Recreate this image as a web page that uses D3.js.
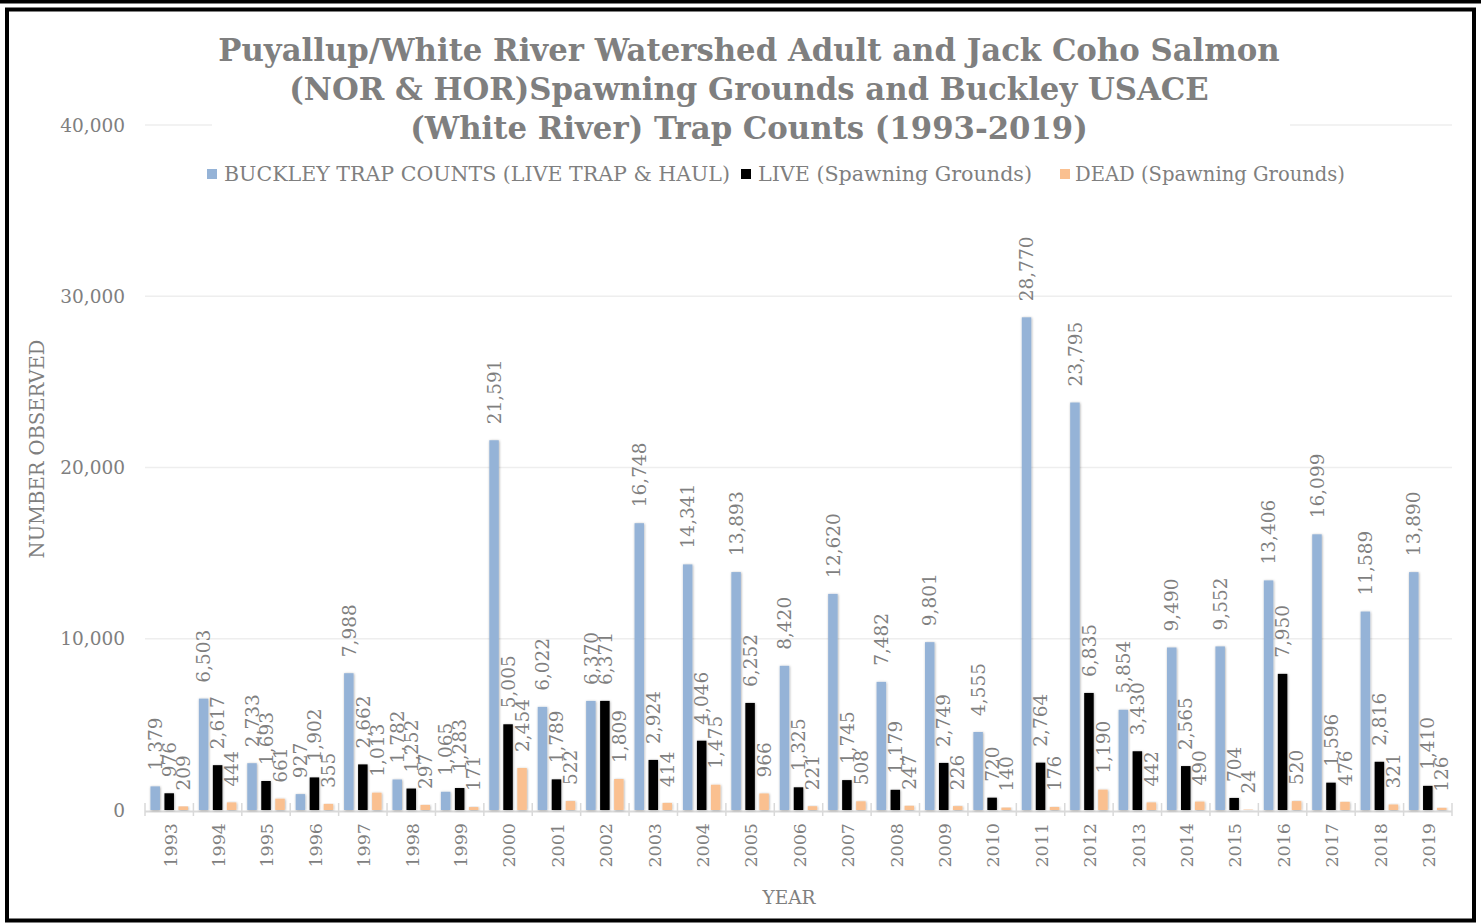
<!DOCTYPE html>
<html>
<head>
<meta charset="utf-8">
<script src="https://cdn.jsdelivr.net/npm/d3@7"></script>
<style>
  html, body { margin: 0; padding: 0; background: #fff; }
  svg { display: block; }
  text { font-family: "DejaVu Serif", "Liberation Serif", serif; fill: #7f7f7f; }
</style>
</head>
<body>
<svg id="chart" width="1481" height="923"></svg>
<script>
const years = ["1993","1994","1995","1996","1997","1998","1999","2000","2001","2002","2003","2004","2005","2006","2007","2008","2009","2010","2011","2012","2013","2014","2015","2016","2017","2018","2019"];
const buckley = [1379,6503,2733,927,7988,1782,1065,21591,6022,6370,16748,14341,13893,8420,12620,7482,9801,4555,28770,23795,5854,9490,9552,13406,16099,11589,13890];
const live = [976,2617,1693,1902,2662,1252,1283,5005,1789,6371,2924,4046,6252,1325,1745,1179,2749,720,2764,6835,3430,2565,704,7950,1596,2816,1410];
const dead = [209,444,661,355,1013,297,171,2454,522,1809,414,1475,966,221,508,247,226,140,176,1190,442,490,24,520,476,321,126];
const seriesNames = ["BUCKLEY TRAP COUNTS (LIVE TRAP & HAUL)", "LIVE (Spawning Grounds)", "DEAD (Spawning Grounds)"];
const seriesColors = ["#95b3d7", "#000000", "#fac090"];
const yTicks = [0, 10000, 20000, 30000, 40000];
const titleLines = ["Puyallup/White River Watershed Adult and Jack Coho Salmon", "(NOR & HOR)Spawning Grounds and Buckley USACE", "(White River) Trap Counts (1993-2019)"];

const svg = d3.select("#chart");
const W = 1481, H = 923;
const plot = {left: 145, right: 1452, top: 125, bottom: 810};

// frame
svg.append("rect").attr("x",0).attr("y",0).attr("width",W).attr("height",3.5).attr("fill","#000");
svg.append("rect").attr("x",7).attr("y",9.5).attr("width",1467).attr("height",911)
  .attr("fill","none").attr("stroke","#000").attr("stroke-width",4);

const defs = svg.append("defs");
const f = defs.append("filter").attr("id","sh").attr("x","-50%").attr("y","-10%").attr("width","200%").attr("height","120%");
f.append("feDropShadow").attr("dx",0.5).attr("dy",0.5).attr("stdDeviation",1.2).attr("flood-color","#000").attr("flood-opacity",0.35);

const x = d3.scaleBand().domain(years).range([plot.left, plot.right]).paddingInner(0).paddingOuter(0);
const y = d3.scaleLinear().domain([0, 40000]).range([plot.bottom, plot.top]);

// gridlines
svg.append("g").selectAll("line").data(yTicks.filter(d => d > 0)).join("line")
  .attr("x1", plot.left).attr("x2", plot.right)
  .attr("y1", d => y(d)).attr("y2", d => y(d))
  .attr("stroke", "#eeeeee").attr("stroke-width", 1.6);

// y tick labels
svg.append("g").selectAll("text").data(yTicks).join("text")
  .attr("x", 125).attr("y", d => y(d)).attr("dy", "0.36em")
  .attr("text-anchor", "end").style("font-size", "18.5px")
  .text(d => d3.format(",")(d));

// x axis line and ticks
svg.append("line").attr("x1", plot.left).attr("x2", plot.right)
  .attr("y1", plot.bottom + 1.5).attr("y2", plot.bottom + 1.5)
  .attr("stroke", "#d9d9d9").attr("stroke-width", 2);
const bounds = years.map(d => x(d)).concat([x(years[years.length-1]) + x.bandwidth()]);
svg.append("g").selectAll("line").data(bounds).join("line")
  .attr("x1", d => d).attr("x2", d => d)
  .attr("y1", plot.bottom - 7).attr("y2", plot.bottom + 6)
  .attr("stroke", "#d9d9d9").attr("stroke-width", 1.5);

// year labels
svg.append("g").selectAll("text").data(years).join("text")
  .attr("transform", d => `translate(${x(d) + x.bandwidth()/2 + 1},823) rotate(-90)`)
  .attr("text-anchor", "end").attr("dy", "0.36em").style("font-size", "17.5px")
  .text(d => d);

// bars
const allSeries = [buckley, live, dead];
const barW = 9.5, step = 14;
allSeries.forEach((vals, si) => {
  const off = (si - 1) * step;
  const g = svg.append("g");
  g.selectAll("rect").data(vals).join("rect")
    .attr("x", (d, i) => x(years[i]) + x.bandwidth()/2 + off - barW/2)
    .attr("y", d => y(d))
    .attr("width", barW)
    .attr("height", d => y(0) - y(d))
    .attr("fill", seriesColors[si])
    .attr("filter", "url(#sh)");
});
// data labels
allSeries.forEach((vals, si) => {
  const off = (si - 1) * step;
  svg.append("g").selectAll("text").data(vals).join("text")
    .attr("transform", (d, i) => `translate(${x(years[i]) + x.bandwidth()/2 + off},${y(d) - 16}) rotate(-90)`)
    .attr("text-anchor", "start").attr("dy", "0.36em").style("font-size", "18.5px")
    .text(d => d3.format(",")(d));
});

// title background + title
svg.append("rect").attr("x", 212).attr("y", 22).attr("width", 1078).attr("height", 125).attr("fill", "#fff");
const tg = svg.append("g");
const tLines = tg.selectAll("text").data(titleLines).join("text")
  .attr("x", 749).attr("y", (d, i) => 61 + i * 39)
  .attr("text-anchor", "middle").style("font-size", "30px").style("font-weight", "bold")
  .text(d => d);
const w0 = tLines.nodes()[0].getComputedTextLength();
const tSize = 30 * 1062 / w0;
tLines.style("font-size", tSize + "px");

// legend
const legX = [207, 741, 1060];
const legT = [224, 758, 1075];
const legW = [506, 274, 270];
const lg = svg.append("g");
seriesNames.forEach((n, i) => {
  lg.append("rect").attr("x", legX[i]).attr("y", 169).attr("width", 10).attr("height", 10).attr("fill", seriesColors[i]);
});
const legTexts = lg.selectAll("text").data(seriesNames).join("text")
  .attr("x", (d, i) => legT[i]).attr("y", 174).attr("dy", "0.36em")
  .style("font-size", "19px").text(d => d);
const lw0 = legTexts.nodes()[0].getComputedTextLength();
legTexts.style("font-size", (19 * 506 / lw0) + "px")
  .attr("textLength", (d, i) => legW[i]).attr("lengthAdjust", "spacingAndGlyphs");

// axis titles
svg.append("text").attr("transform", "translate(37,449) rotate(-90)")
  .attr("text-anchor", "middle").attr("dy", "0.36em").style("font-size", "19.5px")
  .text("NUMBER OBSERVED");
svg.append("text").attr("x", 789).attr("y", 897).attr("dy", "0.36em")
  .attr("text-anchor", "middle").style("font-size", "18.5px").text("YEAR");
</script>
</body>
</html>
